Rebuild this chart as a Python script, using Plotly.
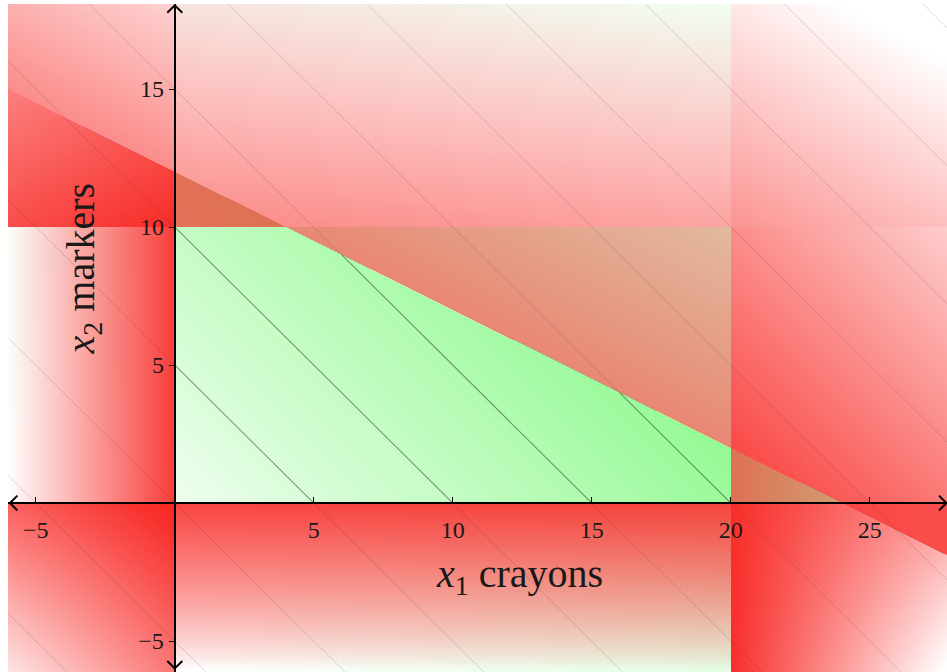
import numpy as np, zlib, struct, base64
import plotly.graph_objects as go

# ---------------- data ----------------
feasible_x1 = [0, 0, 4, 20, 20]
feasible_x2 = [0, 10, 10, 2, 0]
x1_max = 20          # x1 <= 20
x2_max = 10          # x2 <= 10
line_a, line_b, line_c = 1, 2, 24   # x1 + 2 x2 <= 24
objective_levels = [-10, -5, 0, 5, 10, 15, 20, 25, 30, 35, 40, 45]   # x1 + x2 = c
x_tickvals = [-5, 5, 10, 15, 20, 25]
x_ticktext = ['−5', '5', '10', '15', '20', '25']
y_tickvals = [-5, 5, 10, 15]
y_ticktext = ['−5', '5', '10', '15']
x_range = [-6.0, 27.78]
y_range = [-6.12, 18.08]

# ---------------- gradient background (styling raster) ----------------
W, H = 939, 668
xs = x_range[0] + (np.arange(W) + 0.5) * (x_range[1] - x_range[0]) / W
ys = y_range[1] - (np.arange(H) + 0.5) * (y_range[1] - y_range[0]) / H
X, Y = np.meshgrid(xs, ys)

xl = X < 0
xm = (X >= 0) & (X <= x1_max)
xr = X > x1_max
yb = Y < 0
ym = (Y >= 0) & (Y <= x2_max)
yt = Y > x2_max
above = line_a * X + line_b * Y > line_c
line_y = (line_c - line_a * X) / line_b

r = np.zeros_like(X)
g = np.zeros_like(X)
gobj = 0.15 + 0.85 * np.clip((X + Y) / 22.0, 0, 1)

def put(mask, rv, gv=0.0):
    rv = np.broadcast_to(rv, X.shape)
    gv = np.broadcast_to(gv, X.shape)
    r[mask] = rv[mask]
    g[mask] = gv[mask]

put(xl & ym, 0.85 * (1 + X / 6.0), 0.05 * np.clip(Y / 10, 0, 1))
put(xl & yt & ~above, 0.93 + 0.025 * X - 0.045 * (Y - 10))
put(xl & above, 0.5 - 0.05 * (Y - line_y))
put(xl & yb, 0.97 + 0.045 * X + 0.06 * Y - 0.006 * X * Y)
put(xm & yt & ~above, 0.62, gobj)
rr5 = 0.52 - 0.05 * (Y - 10) - 0.006 * X
put(xm & yt & above, rr5, 0.12 * np.clip(1 - rr5 / 0.3, 0, 1))
put(xm & ym & ~above, 0.0, gobj)
put(xm & ym & above, 0.52 - 0.028 * (Y - line_y), 0.36)
rr12 = 0.82 * np.clip(1 + Y / 6.0, 0, 1) ** 0.8
put(xm & yb, rr12, 0.25 * X / 20.0)
put(xr & ym & ~above, 0.62 - 0.05 * (X - 20), 0.7)
put(xr & ym & above, 0.87 - 0.036 * (X - 20) - 0.037 * Y)
put(xr & yt, 0.47 - 0.025 * (X - 20) - 0.046 * (Y - 10))
put(xr & yb & ~above, 0.92 - 0.06 * (X - 20) + 0.01 * (X - 20) * Y)
put(xr & yb & above, 0.85 - 0.01 * (X - 20))

r = np.clip(r, 0, 1)[..., None]
g = np.clip(g, 0, 1)[..., None]
WHITE = np.array([255, 255, 255.0])
GREEN = np.array([148, 250, 148.0])
RED = np.array([248, 28, 24.0])
base = WHITE * (1 - g) + GREEN * g
img = np.clip(base * (1 - r) + RED * r, 0, 255).astype(np.uint8)

def png_uri(arr):
    h, w, _ = arr.shape
    raw = b''.join(b'\x00' + arr[i].tobytes() for i in range(h))
    def chunk(t, d):
        return struct.pack('>I', len(d)) + t + d + struct.pack('>I', zlib.crc32(t + d) & 0xffffffff)
    png = (b'\x89PNG\r\n\x1a\n' + chunk(b'IHDR', struct.pack('>IIBBBBB', w, h, 8, 2, 0, 0, 0))
           + chunk(b'IDAT', zlib.compress(raw, 9)) + chunk(b'IEND', b''))
    return 'data:image/png;base64,' + base64.b64encode(png).decode()

fig = go.Figure()

# ---------------- objective contour lines ----------------
for c in objective_levels:
    fig.add_trace(go.Scatter(x=[x_range[0], x_range[1]], y=[c - x_range[0], c - x_range[1]],
                             mode='lines', line=dict(color='rgba(40,40,40,0.16)', width=1),
                             hoverinfo='skip', showlegend=False))
    t = np.linspace(x_range[0], x_range[1], 3000)
    u = c - t
    inside = (t >= 0) & (t <= x1_max) & (u >= 0) & (u <= x2_max) & (line_a * t + line_b * u <= line_c)
    if inside.any():
        a0, a1 = t[inside].min(), t[inside].max()
        fig.add_trace(go.Scatter(x=[a0, a1], y=[c - a0, c - a1], mode='lines',
                                 line=dict(color='rgba(30,50,30,0.42)', width=1.1),
                                 hoverinfo='skip', showlegend=False))

# ---------------- axis arrowheads (open chevrons at the axis ends) ----------------
ah = 0.27   # arm length in data units (styling)
for (tx, ty, dx, dy) in [(x_range[0] + 0.07, 0, 1, 0), (x_range[1] - 0.02, 0, -1, 0),
                         (0, y_range[1] - 0.05, 0, -1), (0, y_range[0] + 0.13, 0, 1)]:
    if dx:
        px = [tx + dx * ah, tx, tx + dx * ah]
        py = [ty + ah, ty, ty - ah]
    else:
        px = [tx - ah, tx, tx + ah]
        py = [ty + dy * ah, ty, ty + dy * ah]
    fig.add_trace(go.Scatter(x=px, y=py, mode='lines', line=dict(color='black', width=2),
                             cliponaxis=False, hoverinfo='skip', showlegend=False))

fig.add_layout_image(dict(source=png_uri(img), xref='x', yref='y', x=x_range[0], y=y_range[1],
                          sizex=x_range[1] - x_range[0], sizey=y_range[1] - y_range[0],
                          sizing='stretch', xanchor='left', yanchor='top', layer='below'))

FONT = 'Liberation Serif'
txt = 'rgb(25,25,25)'
x0frac = (0 - x_range[0]) / (x_range[1] - x_range[0])
y0frac = (0 - y_range[0]) / (y_range[1] - y_range[0])

fig.update_layout(
    width=947, height=672,
    margin=dict(l=8, r=0, t=4, b=0),
    paper_bgcolor='white', plot_bgcolor='rgba(0,0,0,0)',
    showlegend=False,
    xaxis=dict(range=x_range, showgrid=False, zeroline=False, showline=True, linecolor='black',
               linewidth=2.2, anchor='free', position=y0frac, tickvals=x_tickvals, ticktext=x_ticktext,
               ticks='inside', ticklen=5, tickwidth=1.2, tickcolor='black',
               tickfont=dict(family=FONT, size=24, color=txt), ticklabelstandoff=5),
    yaxis=dict(range=y_range, showgrid=False, zeroline=False, showline=True, linecolor='black',
               linewidth=2.2, anchor='free', position=x0frac, tickvals=y_tickvals, ticktext=y_ticktext,
               ticks='outside', ticklen=5, tickwidth=1.2, tickcolor='black',
               tickfont=dict(family=FONT, size=24, color=txt)),
)

fig.add_annotation(x=12.4, y=-2.65, xref='x', yref='y', showarrow=False,
                   text='<i>x</i><sub>1</sub> crayons', font=dict(family=FONT, size=40, color=txt))
fig.add_annotation(x=-3.3, y=8.5, xref='x', yref='y', showarrow=False, textangle=-90,
                   text='<i>x</i><sub>2</sub> markers', font=dict(family=FONT, size=40, color=txt))

fig.write_html('out.html')
